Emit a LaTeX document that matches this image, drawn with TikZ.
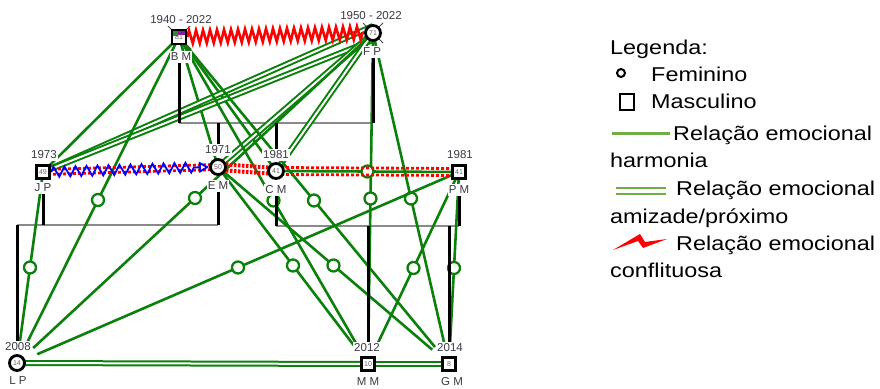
\documentclass[tikz,border=0pt]{standalone}
\usepackage{fontspec}
\setmainfont{Liberation Sans}
\newfontfamily\legendfont[FakeStretch=1.17]{Liberation Sans}
\usetikzlibrary{decorations.pathmorphing,backgrounds,arrows.meta}

\definecolor{relgreen}{HTML}{0B800B}
\definecolor{legendgreen}{HTML}{70AD47}
\definecolor{bargray}{HTML}{8A8A8A}
\definecolor{lblgray}{HTML}{3A3A44}
\definecolor{agegray}{HTML}{666666}
\definecolor{markgreen}{HTML}{2E8B2E}
\definecolor{markpurple}{HTML}{8E1A9E}

\tikzset{
  person/.style={draw=black, line width=2.8pt, fill=white, inner sep=0pt,
    font=\fontsize{7}{7}\selectfont, text=agegray},
  male/.style={person, rectangle, minimum size=13pt},
  female/.style={person, circle, minimum size=15pt},
  lbl/.style={font=\fontsize{11.5}{11.5}\selectfont, text=lblgray, fill=white,
    inner xsep=1pt, inner ysep=1.8pt},
  famline/.style={line width=3pt, black},
  couplebar/.style={line width=2.6pt, bargray},
  harmony/.style={relgreen, line width=2.6pt},
  tochild/.style={shorten >=22pt},
  closeline/.style={relgreen, line width=2pt, double=white, double distance=2pt},
  midmark/.style={circle, draw=relgreen, line width=2.3pt, fill=white, minimum size=12pt, inner sep=0pt},
  conflict/.style={red, line width=2.6pt, decorate,
    decoration={zigzag, segment length=7pt, amplitude=6.5pt}},
  distant/.style={red, line width=2.8pt, dash pattern=on 3pt off 2pt},
  dense/.style={red, line width=4pt, dash pattern=on 2.5pt off 1.5pt},
  abuse/.style={blue, line width=1.8pt, decorate,
    decoration={zigzag, segment length=11pt, amplitude=5pt, post length=12pt}},
  deceased/.style={line width=0.9pt, black!70},
  legtext/.style={font=\legendfont\fontsize{20}{20}\selectfont, anchor=base west, inner sep=0pt},
}

\begin{document}
\begin{tikzpicture}[x=1pt, y=-1pt]
\useasboundingbox (0,0) rectangle (880,388);

% ---- people ----
\node[male, minimum size=14pt, path picture={
    \fill[markgreen] ([shift={(1,1)}]path picture bounding box.north west) rectangle +(5,5);
    \fill[markpurple] ([shift={(6,1)}]path picture bounding box.north west) rectangle +(7,4);
  }] (bm) at (179,37) {81};
\node[female] (fp) at (373,33) {71};
\node[male]   (jp) at (43,172) {49};
\node[female] (em) at (218,167) {50};
\node[female] (cm) at (276,171) {41};
\node[male]   (pm) at (459,172) {41};
\node[female] (lp) at (17,363) {14};
\node[male]   (mm) at (368,364) {10};
\node[male]   (gm) at (449,364) {8};

% ---- labels (opaque, so connectors stop at them) ----
\node[lbl] (bmyear) at (181,20) {1940 - 2022};
\node[lbl] (bmname) at (181,57) {B M};
\node[lbl] (fpyear) at (371,16) {1950 - 2022};
\node[lbl] (fpname) at (372,52) {F P};
\node[lbl] (jpyear) at (44,155) {1973};
\node[lbl] (jpname) at (43,188) {J P};
\node[lbl] (emyear) at (218,150) {1971};
\node[lbl] (emname) at (218,186) {E M};
\node[lbl] (cmyear) at (276,155) {1981};
\node[lbl] (cmname) at (276,190) {C M};
\node[lbl] (pmyear) at (460,155) {1981};
\node[lbl] (pmname) at (459,190) {P M};
\node[lbl] (lpyear) at (18,347) {2008};
\node[lbl] (lpname) at (18,381) {L P};
\node[lbl] (mmyear) at (367,348) {2012};
\node[lbl] (mmname) at (368,382) {M M};
\node[lbl] (gmyear) at (450,348) {2014};
\node[lbl] (gmname) at (452,382) {G M};

\coordinate (bar1) at (0,123);
\coordinate (bar2) at (0,225);
\coordinate (bar3) at (0,226);

\begin{pgfonlayer}{background}
  % deceased marks
  \draw[deceased] ([shift={(-4,-4)}]bm.north west) -- ([shift={(4,4)}]bm.south east);
  \draw[deceased] ([shift={(4,-4)}]bm.north east) -- ([shift={(-4,4)}]bm.south west);
  \draw[deceased] ([shift={(-10,-10)}]fp.center) -- ([shift={(10,10)}]fp.center);
  \draw[deceased] ([shift={(10,-10)}]fp.center) -- ([shift={(-10,10)}]fp.center);

  % ---- couple bars ----
  \draw[couplebar] (bm |- bar1) -- (fp |- bar1);
  \draw[couplebar] (lp |- bar2) -- (em |- bar2);
  \draw[couplebar] (cm |- bar3) -- (pm |- bar3);

  % ---- emotional relationships ----
  \draw[harmony] (bm.center) -- (jp.center);
  \draw[harmony] (bm.center) -- (em.center);
  \draw[harmony] (bm.center) -- (cm.center);
  \draw[closeline] (jp.center) -- ([yshift=7pt]fp.center);
  \draw[closeline] (jp.center) -- ([yshift=-7pt]fp.center);
  \draw[closeline] (fp.center) -- (em.center);
  \draw[closeline] (fp.center) -- (cm.center);
  \draw[harmony, tochild] (bm.center) -- (lp.center) node[midmark,pos=.5] (k1) {};
  \draw[harmony, tochild] (bm.center) -- (mm.center) node[midmark,pos=.5] (k2) {};
  \draw[harmony, tochild] (bm.center) -- (gm.center) node[midmark,pos=.5] (k3) {};
  \draw[harmony, tochild] (fp.center) -- (lp.center) node[midmark,pos=.5] (k4) {};
  \draw[harmony, tochild] (fp.center) -- (mm.center) node[midmark,pos=.5] (k5) {};
  \draw[harmony, tochild] (fp.center) -- (gm.center) node[midmark,pos=.5] (k6) {};
  \draw[harmony, tochild] (jp.center) -- (lp.center) node[midmark,pos=.5] (k7) {};
  \draw[harmony, tochild] (em.center) -- (mm.center) node[midmark,pos=.5] (k8) {};
  \draw[harmony, tochild] (em.center) -- (gm.center) node[midmark,pos=.5] (k9) {};
  \draw[harmony, tochild] (pm.center) -- (lp.center) node[midmark,pos=.5] (k10) {};
  \draw[harmony, tochild] (pm.center) -- (mm.center) node[midmark,pos=.5] (k11) {};
  \draw[harmony, tochild] (pm.center) -- (gm.center) node[midmark,pos=.5] (k12) {};
  \draw[harmony] (cm.center) -- (pm.center) node[midmark,pos=.5] (k13) {};
  \draw[closeline] (lp.center) -- (mm.center);
  \draw[closeline] (mm.center) -- (gm.center);

  % ---- parent and child lines ----
  \draw[famline] (bm |- bmname.south) -- (bm |- bar1);
  \draw[famline] (fp |- fpname.south) -- (fp |- bar1);
  \draw[famline] (em |- bar1) -- (em |- emyear.north);
  \draw[famline] (cm |- bar1) -- (cm |- cmyear.north);
  \draw[famline] (jp |- jpname.south) -- (jp |- bar2);
  \draw[famline] (em |- emname.south) -- (em |- bar2);
  \draw[famline] (lp |- bar2) -- (lp |- lpyear.north);
  \draw[famline] (cm |- cmname.south) -- (cm |- bar3);
  \draw[famline] (pm |- pmname.south) -- (pm |- bar3);
  \draw[famline] (mm |- bar3) -- (mm |- mmyear.north);
  \draw[famline] (gm |- bar3) -- (gm |- gmyear.north);

  % conflict and hostility
  \draw[conflict] (bm.east) -- (fp.west);
  \draw[distant] ([yshift=2.5pt]jp.center) -- ([yshift=2.5pt]em.center);
  \draw[distant] ([yshift=-2.5pt]jp.center) -- ([yshift=-2.5pt]em.center);
  \draw[abuse, -{Triangle[open, length=10pt, width=11pt]}] (jp.east) -- (em.west);
  \draw[dense] ([yshift=3pt]em.center) -- ([yshift=3pt]cm.center);
  \draw[dense] ([yshift=-3pt]em.center) -- ([yshift=-3pt]cm.center);
  \draw[distant] ([yshift=3.5pt]cm.center) -- ([yshift=3.5pt]pm.center);
  \draw[distant] ([yshift=-3.5pt]cm.center) -- ([yshift=-3.5pt]pm.center);
\end{pgfonlayer}

% ---- legend ----
\node[legtext] (legtitle) at (610,54) {Legenda:};
\node[circle, draw, line width=2pt, minimum size=8pt, inner sep=0pt] (legf) at (621,73) {};
\node[legtext] (legftext) at (651,81) {Feminino};
\node[rectangle, draw, line width=2pt, minimum width=14pt, minimum height=16pt, inner sep=0pt] (legm) at (627,101.5) {};
\node[legtext] (legmtext) at (651,108) {Masculino};

\coordinate (lh1) at (612,133);
\coordinate (lh2) at (670,133);
\draw[legendgreen, line width=3pt] (lh1) -- (lh2);
\node[legtext] (leghtext) at (673,140) {Relação emocional};
\node[legtext] (leghtext2) at (610,167) {harmonia};

\coordinate (ld1) at (616,188);
\coordinate (ld2) at (666,188);
\coordinate (ld3) at (616,194);
\coordinate (ld4) at (666,194);
\draw[legendgreen, line width=2.4pt] (ld1) -- (ld2);
\draw[legendgreen, line width=2.4pt] (ld3) -- (ld4);
\node[legtext] (legdtext) at (676,195) {Relação emocional};
\node[legtext] (legdtext2) at (610,223) {amizade/próximo};

\fill[red] (613,250) -- (640,234) -- (645,242) -- (667,239) -- (643,248) -- (638,241) -- cycle;
\node[legtext] (legctext) at (676,250) {Relação emocional};
\node[legtext] (legctext2) at (610,277) {conflituosa};
\end{tikzpicture}
\end{document}
